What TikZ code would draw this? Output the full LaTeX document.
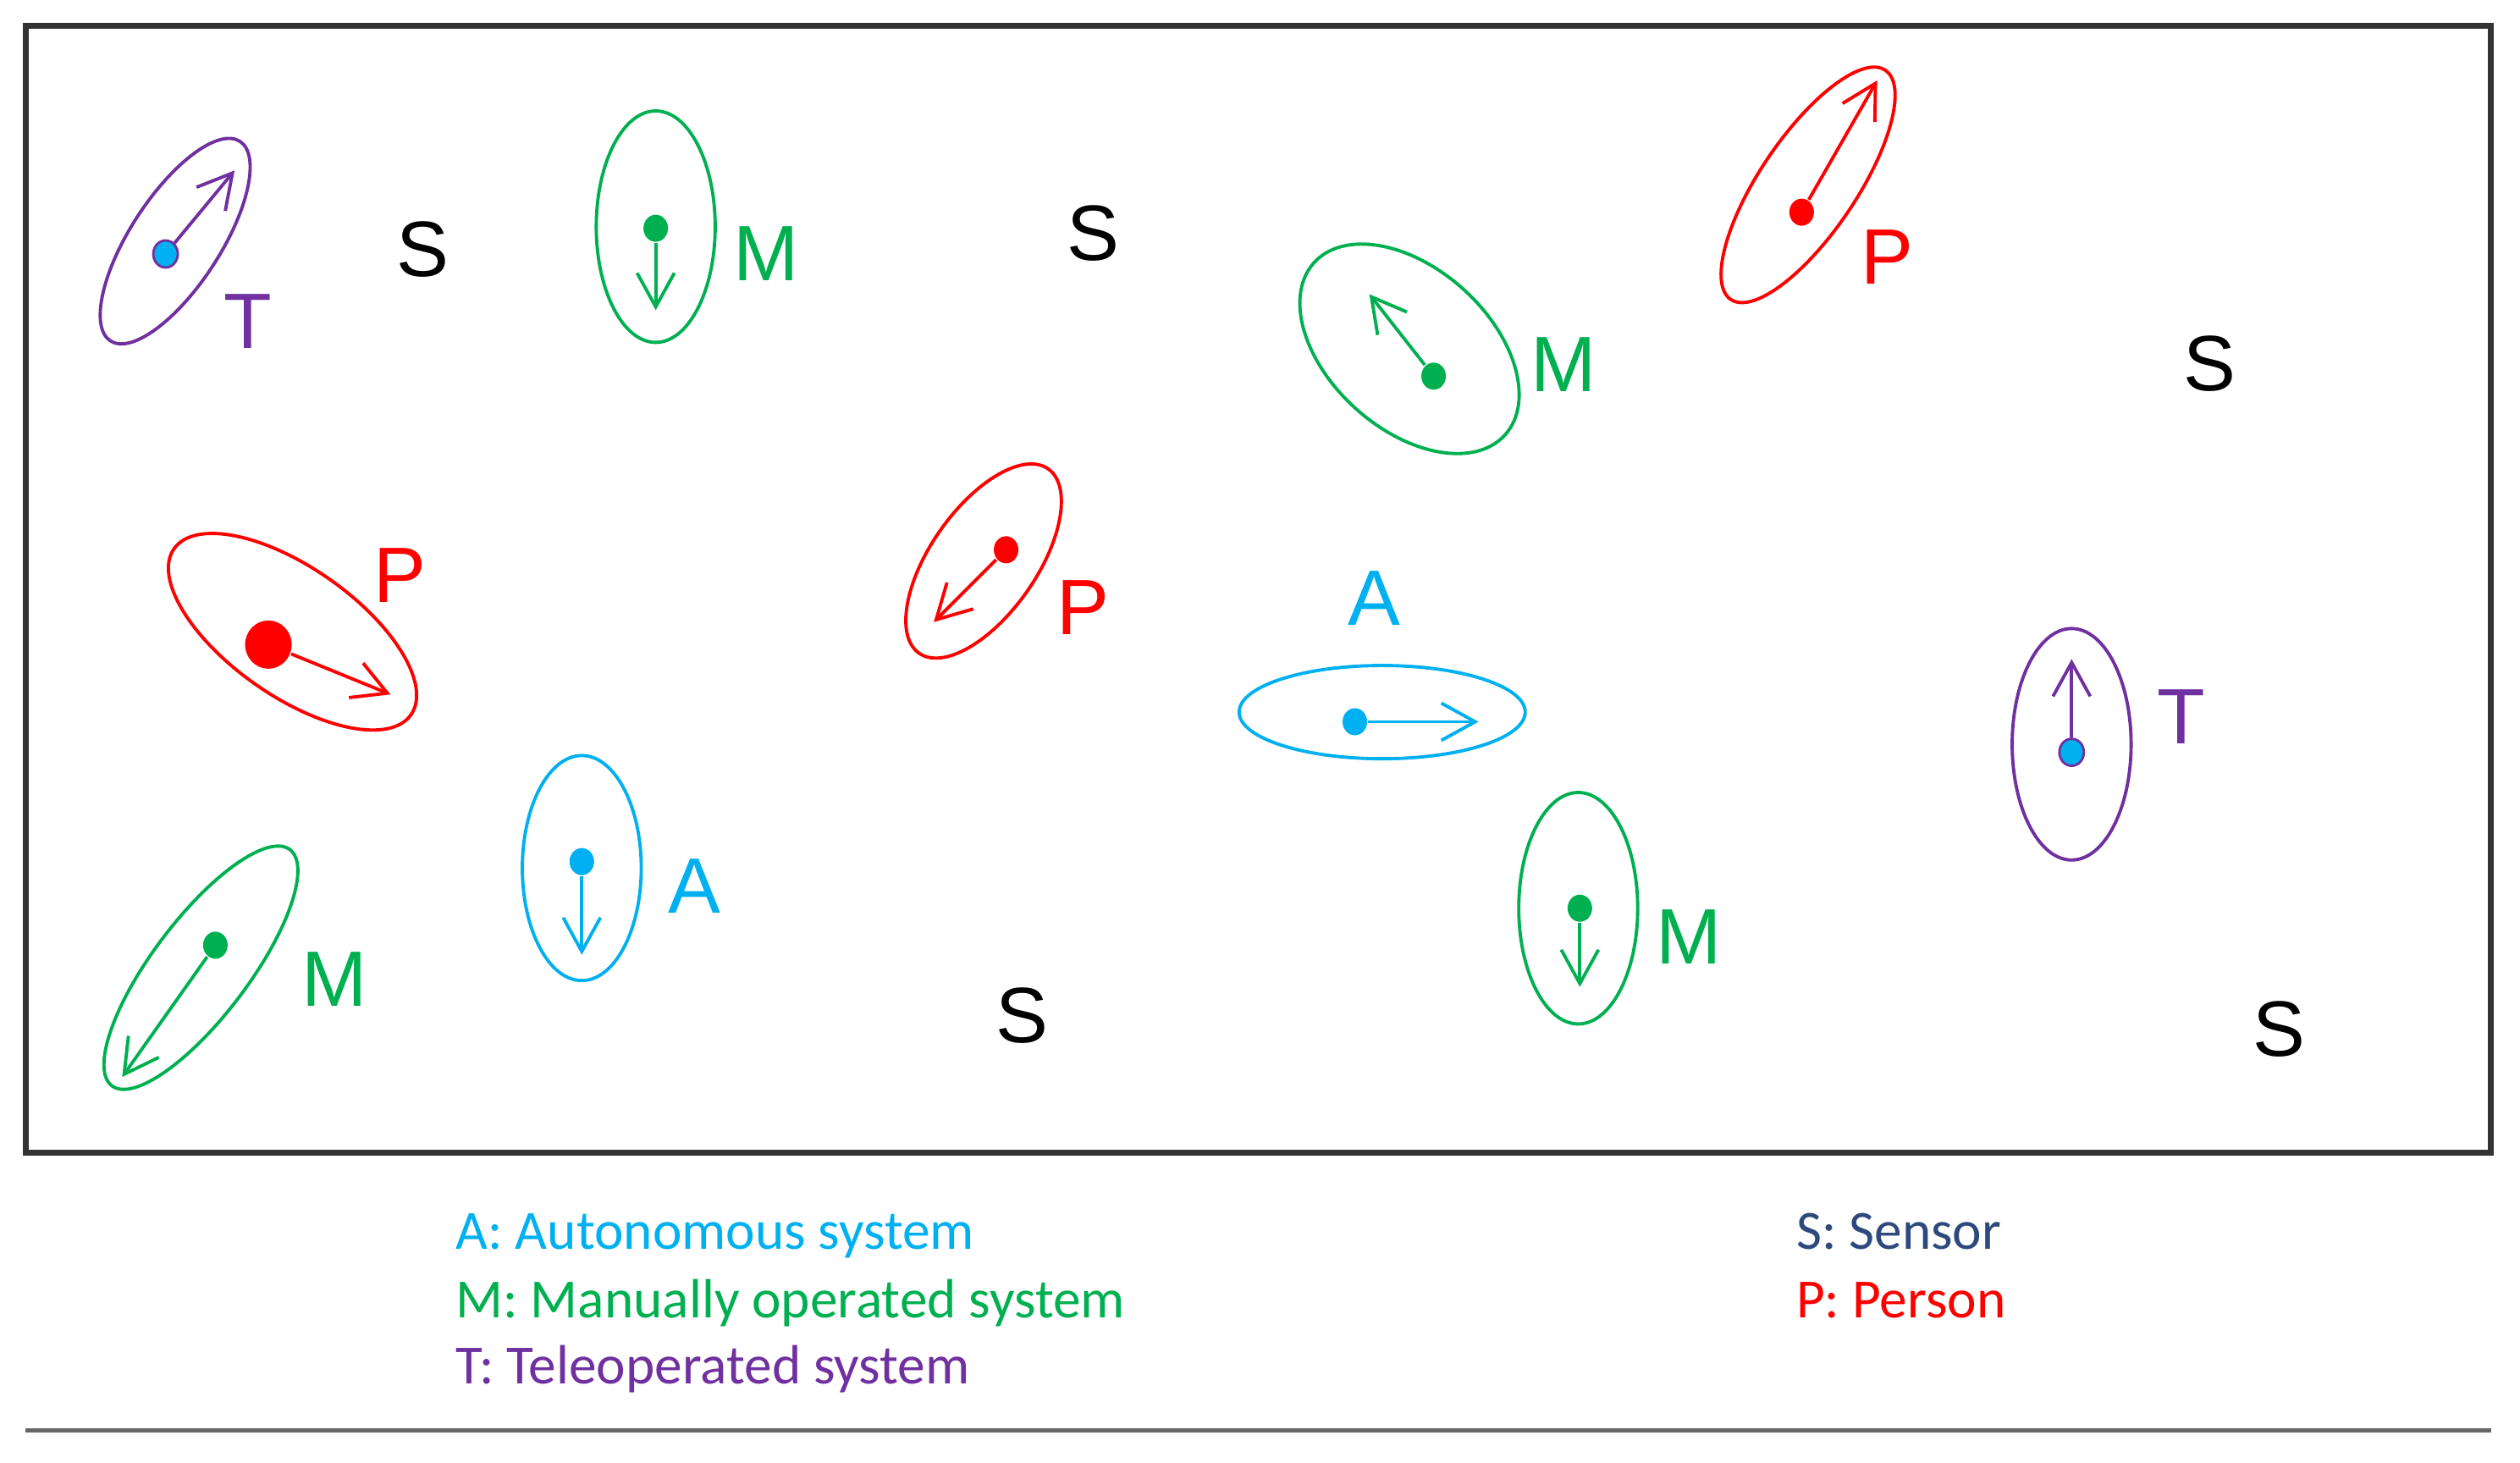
\documentclass[tikz,border=0pt]{standalone}
\usepackage{fontspec}
\setmainfont{Carlito}
\newfontfamily\tagfont{Liberation Sans}
\usepackage{tikz}
\usetikzlibrary{arrows.meta,shapes.geometric}
\usepackage{xcolor}
\definecolor{diagramauto}{HTML}{00B0F0}
\definecolor{diagrammanual}{HTML}{00B050}
\definecolor{diagramtele}{HTML}{7030A0}
\definecolor{diagramperson}{HTML}{FF0000}
\definecolor{diagramsensor}{HTML}{2E4A7D}

\begin{document}
\begin{tikzpicture}[x=0.09493mm,y=0.09493mm,
  fleetring/.style={line width=0.55pt},
  fleetdot/.style={ellipse,inner sep=0pt,minimum width=1.45mm,
    minimum height=1.6mm},
  fleetmove/.style={-{Straight Barb[length=2mm,width=2.2mm]},
    line width=0.55pt},
  fleetlabel/.style={font=\tagfont\fontsize{13.2}{15}\selectfont,
    inner sep=0pt},
  fleetkey/.style={font=\fontsize{9.3}{11}\selectfont,anchor=base west,
    inner sep=0pt}
]
  \useasboundingbox (0,0) rectangle (1568,910);
  \draw[black!80,line width=1pt] (16,193) rectangle (1550,894);
  \draw[black!60,line width=0.7pt] (16,20) -- (1550,20);

  % top row
  \draw[fleetring,diagramtele] (109,760)
    circle [x radius=74,y radius=28,rotate=57];
  \node[fleetdot,fill=diagramauto,draw=diagramtele,line width=0.4pt]
    (teleA) at (103,752) {};
  \coordinate (teleAgo) at (146,804);
  \draw[fleetmove,diagramtele] (teleA) -- (teleAgo);
  \node[fleetlabel,text=diagramtele] (teleAtag) at (154,710) {T};

  \node[fleetlabel] (sensorA) at (263,755) {S};

  \draw[fleetring,diagrammanual] (408,769)
    circle [x radius=37,y radius=72];
  \node[fleetdot,fill=diagrammanual] (manA) at (408,768) {};
  \coordinate (manAgo) at (408,717);
  \draw[fleetmove,diagrammanual] (manA) -- (manAgo);
  \node[fleetlabel,text=diagrammanual] (manAtag) at (477,752) {M};

  \node[fleetlabel] (sensorB) at (680,765) {S};

  \draw[fleetring,diagrammanual] (877,693)
    circle [x radius=80,y radius=50,rotate=-42];
  \node[fleetdot,fill=diagrammanual] (manB) at (892,676) {};
  \coordinate (manBgo) at (852,727);
  \draw[fleetmove,diagrammanual] (manB) -- (manBgo);
  \node[fleetlabel,text=diagrammanual] (manBtag) at (973,683) {M};

  \draw[fleetring,diagramperson] (1125,795)
    circle [x radius=86,y radius=30,rotate=56];
  \node[fleetdot,fill=diagramperson] (personA) at (1121,778) {};
  \coordinate (personAgo) at (1168,860);
  \draw[fleetmove,diagramperson] (personA) -- (personAgo);
  \node[fleetlabel,text=diagramperson] (personAtag) at (1174,750) {P};

  \node[fleetlabel] (sensorC) at (1375,684) {S};

  % middle row
  \draw[fleetring,diagramperson] (182,517)
    circle [x radius=90,y radius=40,rotate=-35];
  \node[fleetdot,fill=diagramperson,minimum width=2.75mm,
    minimum height=2.85mm] (personB) at (167,509) {};
  \coordinate (personBgo) at (243,478);
  \draw[fleetmove,diagramperson] (personB) -- (personBgo);
  \node[fleetlabel,text=diagramperson] (personBtag) at (249,552) {P};

  \draw[fleetring,diagramperson] (612,561)
    circle [x radius=70,y radius=33,rotate=55];
  \node[fleetdot,fill=diagramperson] (personC) at (626,568) {};
  \coordinate (personCgo) at (581,523);
  \draw[fleetmove,diagramperson] (personC) -- (personCgo);
  \node[fleetlabel,text=diagramperson] (personCtag) at (674,532) {P};

  \node[fleetlabel,text=diagramauto] (autoAtag) at (855,538) {A};
  \draw[fleetring,diagramauto] (860,467)
    circle [x radius=89,y radius=29];
  \node[fleetdot,fill=diagramauto] (autoA) at (843,461) {};
  \coordinate (autoAgo) at (920,461);
  \draw[fleetmove,diagramauto] (autoA) -- (autoAgo);

  \draw[fleetring,diagramtele] (1289,447)
    circle [x radius=37,y radius=72];
  \node[fleetdot,fill=diagramauto,draw=diagramtele,line width=0.4pt]
    (teleB) at (1289,442) {};
  \coordinate (teleBgo) at (1289,500);
  \draw[fleetmove,diagramtele] (teleB) -- (teleBgo);
  \node[fleetlabel,text=diagramtele] (teleBtag) at (1357,464) {T};

  % bottom row
  \draw[fleetring,diagrammanual] (982,345)
    circle [x radius=37,y radius=72];
  \node[fleetdot,fill=diagrammanual] (manC) at (983,345) {};
  \coordinate (manCgo) at (983,296);
  \draw[fleetmove,diagrammanual] (manC) -- (manCgo);
  \node[fleetlabel,text=diagrammanual] (manCtag) at (1051,327) {M};

  \draw[fleetring,diagramauto] (362,370)
    circle [x radius=37,y radius=70];
  \node[fleetdot,fill=diagramauto] (autoB) at (362,374) {};
  \coordinate (autoBgo) at (362,316);
  \draw[fleetmove,diagramauto] (autoB) -- (autoBgo);
  \node[fleetlabel,text=diagramauto] (autoBtag) at (432,359) {A};

  \draw[fleetring,diagrammanual] (125,308)
    circle [x radius=92,y radius=30,rotate=53];
  \node[fleetdot,fill=diagrammanual] (manD) at (134,322) {};
  \coordinate (manDgo) at (76,240);
  \draw[fleetmove,diagrammanual] (manD) -- (manDgo);
  \node[fleetlabel,text=diagrammanual] (manDtag) at (208,301) {M};

  \node[fleetlabel] (sensorD) at (636,278) {S};
  \node[fleetlabel] (sensorE) at (1418,270) {S};

  % key
  \node[fleetkey,text=diagramauto] (keyauto) at (283,133)
    {A: Autonomous system};
  \node[fleetkey,text=diagrammanual] (keymanual) at (283,90)
    {M: Manually operated system};
  \node[fleetkey,text=diagramtele] (keytele) at (283,49)
    {T: Teleoperated system};
  \node[fleetkey,text=diagramsensor] (keysensor) at (1117,133)
    {S: Sensor};
  \node[fleetkey,text=diagramperson] (keyperson) at (1117,90)
    {P: Person};
\end{tikzpicture}
\end{document}
